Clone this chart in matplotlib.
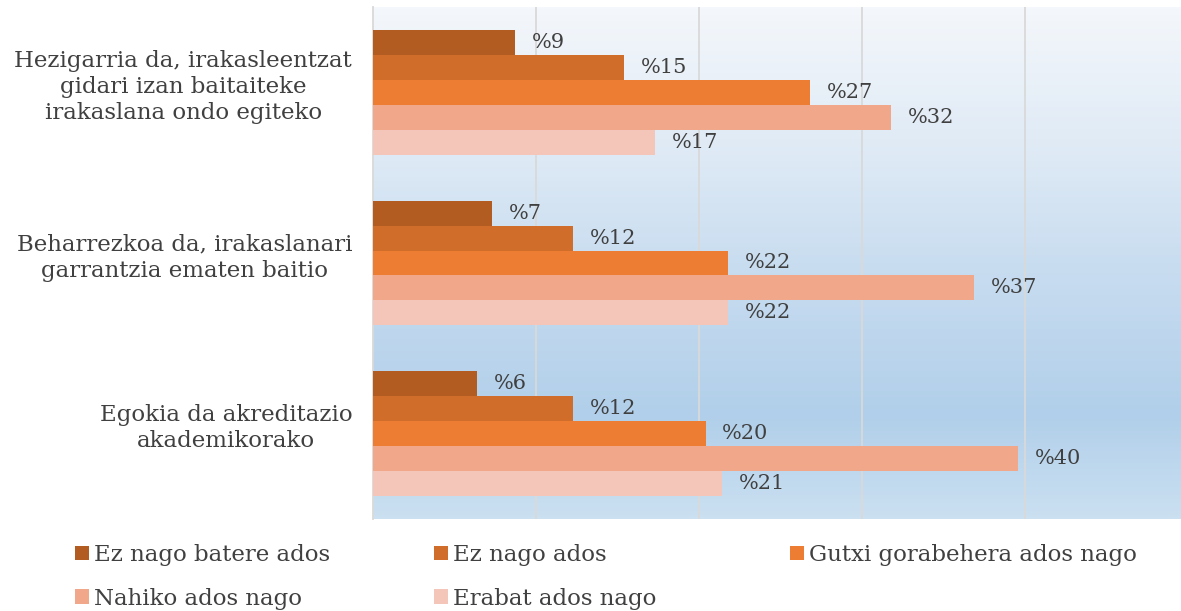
import matplotlib.pyplot as plt
from matplotlib.patches import Patch
import numpy as np

# datos
categorias = [
    "Hezigarria da, irakasleentzat\ngidari izan baitaiteke\nirakaslana ondo egiteko",
    "Beharrezkoa da, irakaslanari\ngarrantzia ematen baitio",
    "Egokia da akreditazio\nakademikorako",
]
series = ["Ez nago batere ados", "Ez nago ados", "Gutxi gorabehera ados nago",
          "Nahiko ados nago", "Erabat ados nago"]
ez_batere = [8.7, 7.3, 6.4]
ez_ados = [15.4, 12.3, 12.3]
gutxi = [26.8, 21.8, 20.4]
nahiko = [31.8, 36.9, 39.6]
erabat = [17.3, 21.8, 21.4]
valores = [ez_batere, ez_ados, gutxi, nahiko, erabat]
colores = ["#b35c22", "#d16d2b", "#ed7d32", "#f0a78a", "#f4c6b9"]

texto = "#404040"
plt.rcParams['font.family'] = ['DejaVu Serif', 'DejaVu Sans']

fig = plt.figure(figsize=(11.81, 6.11), dpi=100)
ax = fig.add_axes([373 / 1181, 1 - 519 / 611, 1 - 373 / 1181, 512 / 611])

# fondo degradado
stops = [0.0, 0.3, 0.5, 0.8, 1.0]
rgb = np.array([[244, 247, 251], [221, 233, 245], [201, 221, 240],
                [177, 207, 234], [203, 224, 241]]) / 255
t = np.linspace(0, 1, 256)
grad = np.stack([np.interp(t, stops, rgb[:, k]) for k in range(3)], axis=1)
grad = np.repeat(grad[:, None, :], 2, axis=1)
ax.imshow(grad, extent=[0, 1, 0, 1], transform=ax.transAxes, aspect='auto',
          origin='upper', zorder=0)

h = 25 / 171
y = np.arange(len(categorias))
for i, (vals, col) in enumerate(zip(valores, colores)):
    pos = y + (i - 2) * h
    ax.barh(pos, vals, height=h, color=col, zorder=3, label=series[i])
    for p, v in zip(pos, vals):
        ax.annotate(f"%{v:.0f}", (v, p), xytext=(12, 0), textcoords='offset points',
                    va='center', ha='left', fontsize=15, color=texto, zorder=4)

ax.set_xlim(0, 808 / 16.3)
ax.set_ylim(2.5, -0.5)
ax.set_xticks([10, 20, 30, 40])
ax.set_xticklabels([])
ax.tick_params(axis='x', length=0)
ax.grid(axis='x', color='#d9d9d9', lw=1.3, zorder=1)
ax.set_axisbelow(False)
ax.set_yticks(y)
ax.set_yticklabels([])
ax.tick_params(axis='y', length=0)

# etiquetas de categoria, un poco mas arriba que el centro del grupo
for yi, cat in zip(y, categorias):
    ax.annotate(cat, (0, yi), xycoords=('axes fraction', 'data'),
                xytext=(-15, 4), textcoords='offset points', ha='right', va='center',
                multialignment='center', fontsize=16.5, color=texto, linespacing=1.25,
                annotation_clip=False)

for s in ['top', 'right', 'bottom']:
    ax.spines[s].set_visible(False)
ax.spines['left'].set_color('#d9d9d9')
ax.spines['left'].set_linewidth(1.3)

# leyenda en tres columnas
handles = [Patch(facecolor=c) for c in colores]
columnas = [([0, 3], 75), ([1, 4], 434), ([2], 790)]
for idx, xpx in columnas:
    fig.legend([handles[k] for k in idx], [series[k] for k in idx],
               loc='upper left', bbox_to_anchor=(xpx / 1181, 1 - 544 / 611),
               frameon=False, fontsize=16.5, handlelength=0.6, handleheight=0.6,
               handletextpad=0.25, labelspacing=0.95, borderpad=0, borderaxespad=0,
               labelcolor=texto)

fig.savefig("out.png", dpi=100)
